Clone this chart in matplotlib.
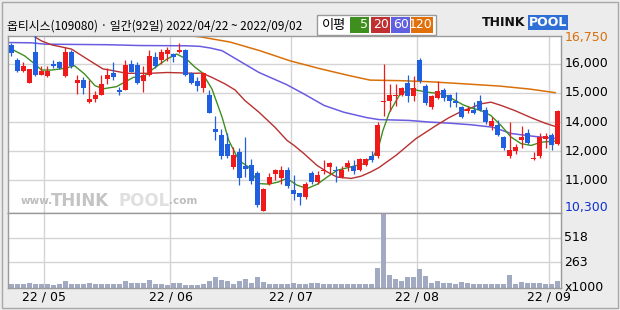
import matplotlib
matplotlib.use('Agg')
import matplotlib.pyplot as plt
from matplotlib.patches import Rectangle

# daily candles (index 0 = 2022/04/22)
opens = [16400, 15850, 15450, 15000, 16150, 15300, 15250, 15700, 15750, 15250,
         16150, 15000, 15100, 14300, 14400, 14550, 15150, 15350, 14750, 14750,
         15700, 15650, 15050, 15300, 15950, 15850, 16050, 16050, 16150, 16200,
         15350, 15050, 14800, 14550, 13300, 13100, 12750, 11900, 12450, 11950,
         12000, 11700, 10300, 11300, 11650, 11500, 11800, 11050, 10950, 10800,
         11700, 11350, 11750, 11900, 11800, 11550, 11900, 11950, 11800, 12000,
         12300, 12300, 14300, 14350, 14500, 14550, 15000, 14500, 15850, 14900,
         14100, 14450, 14750, 14550, 14350, 14100, 13950, 14000, 14350, 14000,
         13400, 13450, 13000, 12300, 12500, 12900, 13150, 12200, 12300, 12950,
         13100, 12750]
highs = [16450, 15900, 15750, 15500, 16750, 15600, 15600, 15850, 15800, 16300,
         16200, 15300, 15200, 15100, 14700, 15300, 15550, 15750, 14850, 15850,
         15850, 15750, 15600, 16200, 16150, 16250, 16300, 16100, 16450, 16250,
         15400, 15200, 15400, 14750, 13800, 13300, 13150, 12650, 12600, 13000,
         12200, 11750, 11150, 11700, 11850, 11950, 11900, 11600, 10950, 11350,
         11750, 11750, 12150, 12100, 11950, 11950, 12150, 12150, 12250, 12250,
         12500, 13550, 15700, 14950, 14950, 14850, 15300, 15250, 15900, 14950,
         14550, 15050, 14800, 14600, 14650, 14150, 14150, 14300, 14550, 14100,
         13750, 13650, 13050, 13550, 12750, 13400, 13300, 12450, 13150, 13150,
         13150, 14000]
lows = [16000, 15400, 15400, 15000, 15250, 15300, 15200, 15550, 15500, 15200,
        15550, 14600, 14600, 14250, 14300, 14550, 14950, 15100, 14550, 14750,
        15400, 14950, 14650, 15250, 15550, 15700, 15800, 15750, 16100, 15250,
        14950, 14700, 14650, 13900, 12900, 12200, 12250, 11850, 11250, 11550,
        11300, 10450, 10300, 11250, 11450, 11300, 11150, 10700, 10500, 10750,
        11300, 11300, 11650, 11650, 11350, 11500, 11750, 11650, 11750, 11950,
        12100, 12250, 13800, 13950, 14150, 14500, 14300, 14350, 15000, 14200,
        14050, 14400, 14350, 14100, 14100, 13700, 13900, 13850, 13950, 13500,
        13250, 13050, 12550, 12250, 12400, 12600, 12750, 12150, 12250, 12600,
        12550, 12700]
closes = [16100, 15450, 15600, 15500, 15300, 15450, 15450, 15600, 15550, 16150,
          15600, 15100, 14800, 14400, 14550, 14950, 15300, 15200, 14650, 15650,
          15400, 15000, 15300, 16000, 15600, 16150, 16200, 15950, 16200, 15300,
          15000, 14900, 15350, 13900, 13200, 12300, 12300, 12350, 11500, 11850,
          11400, 10500, 11100, 11550, 11800, 11800, 11200, 10900, 10800, 11300,
          11350, 11600, 11800, 12050, 11750, 11800, 12050, 11750, 12200, 12200,
          12150, 13450, 14350, 14550, 14550, 14800, 14500, 14800, 15050, 14250,
          14500, 14700, 14450, 14350, 14250, 13750, 14050, 13900, 14000, 13550,
          13600, 13100, 12600, 12550, 12650, 13000, 12800, 12250, 13000, 13050,
          12700, 13950]
volumes = [37, 41, 37, 51, 44, 37, 37, 34, 41, 75,
           44, 44, 37, 51, 44, 44, 44, 44, 44, 75,
           54, 54, 54, 82, 44, 41, 27, 54, 54, 34,
           34, 34, 44, 75, 112, 82, 75, 44, 75, 95,
           54, 112, 61, 44, 37, 41, 41, 51, 44, 37,
           51, 51, 41, 44, 37, 41, 41, 37, 37, 37,
           37, 204, 755, 133, 92, 75, 112, 112, 194, 122,
           54, 75, 54, 54, 44, 58, 54, 44, 41, 41,
           44, 44, 44, 136, 41, 61, 51, 51, 51, 44,
           44, 75]

# moving average lines (candle index, price)
ma5_x = [0, 2.2, 3.9, 5, 6.6, 8.9, 10.5, 12.2, 13.9, 15.25, 17.5, 20.3, 22, 23.6,
         25.9, 27.5, 29.2, 30.6, 31.75, 33.4, 35.1, 36.2, 37.9, 39.5, 41.2, 42.9,
         44.5, 45.9, 47.6, 49.3, 51, 52.6, 54.3, 56.5, 58.75, 60.4, 61.25, 61.9, 63,
         64.6, 66.3, 68, 69.6, 71.9, 73.5, 75.2, 76.6, 78.25, 79.9, 81.6, 83.25,
         84.9, 86.6, 88.25, 90.6]
ma5_y = [16240, 15990, 15690, 15470, 15470, 15530, 15630, 15320, 14900, 14780,
         14860, 15200, 15230, 15510, 15870, 16060, 15870, 15570, 15380, 14780,
         13740, 12890, 12150, 11910, 11300, 11280, 11360, 11490, 11240, 11120,
         11280, 11540, 11790, 11910, 12030, 12340, 12700, 13250, 13920, 14530,
         14780, 14710, 14650, 14590, 14410, 14200, 14080, 13980, 13800, 13430,
         13010, 12770, 12700, 12820, 12860]
ma20_x = [3.4, 5, 6.6, 10, 12.2, 15.25, 16.4, 19.2, 23.1, 25.9, 30.6, 31.75, 33.4,
          35.6, 37.25, 38.9, 41.25, 43.9, 45.9, 47.1, 48.75, 50.9, 52.6, 54.25,
          56.6, 58.25, 59.9, 61.25, 64.1, 67.4, 70.75, 72.9, 75.25, 76.6, 78.25,
          79.9, 81.6, 83.9, 86.6, 88.9, 90.6]
ma20_y = [16750, 16540, 16400, 16240, 15930, 15510, 15470, 15350, 15350, 15380,
          15350, 15360, 15200, 14960, 14740, 14350, 13920, 13370, 12890, 12700,
          12400, 11970, 11730, 11540, 11490, 11570, 11730, 11890, 12340, 12950,
          13430, 13720, 13980, 14080, 14230, 14290, 14170, 13980, 13720, 13520,
          13400]
ma60_x = [-0.6, 3.25, 5.6, 15.9, 21.4, 29.25, 31.4, 33.1, 35.1, 38.4, 41.25, 45.9,
          48.75, 52.1, 55.4, 59.25, 61.25, 66.25, 69.6, 72.9, 76.6, 80.25, 83.25,
          87.25, 90.6]
ma60_y = [16480, 16470, 16420, 16400, 16370, 16360, 16340, 16280, 16180, 15750,
          15380, 14930, 14590, 14170, 13920, 13720, 13650, 13620, 13560, 13520,
          13460, 13370, 13140, 13030, 12960]
ma120_x = [27.4, 31.4, 36.4, 41.4, 46.4, 51.4, 56.4, 59.75, 64.75, 69.75, 76.4,
           81.4, 86.4, 90.6]
ma120_y = [16780, 16690, 16500, 16180, 15810, 15520, 15260, 15100, 15080, 15040,
           14950, 14880, 14770, 14640]

month_start = [6, 27, 47, 68, 90]
month_labels = ['22/05', '22/06', '22/07', '22/08', '22/09']
price_grid = [15700, 14640, 13545, 12485, 11425]
price_labels = ['16,000', '15,000', '14,000', '12,000', '11,000']
price_max, price_min = 16750, 10300
vol_grid = [518, 263]

UP = '#f01a1a'
DOWN = '#1f5fe0'
GRID = '#d4d4d4'
FRAME = '#9a9a9a'
KR = ['Noto Sans CJK KR', 'DejaVu Sans']

fig = plt.figure(figsize=(6.2, 3.1), dpi=100, facecolor='#ececec')
fig.patches.append(Rectangle((0.004, 0.006), 0.992, 0.988, transform=fig.transFigure,
                             fill=False, edgecolor='#a8a8a8', lw=1))

L, W = 8 / 620, 553 / 620
ax = fig.add_axes([L, 1 - 213 / 310, W, 177 / 310])
axv = fig.add_axes([L, 1 - 288 / 310, W, 75 / 310])

n = len(closes)
idx = list(range(n))
for a in (ax, axv):
    a.set_xlim(-0.58, n - 0.42)
    a.set_xticks([])
    a.set_yticks([])
    for s in a.spines.values():
        s.set_color(FRAME)
        s.set_linewidth(1)
    for m in month_start:
        a.axvline(m - 0.5, color=GRID, lw=1, zorder=0)

ax.set_ylim(10220, 16720)
for g in price_grid:
    ax.axhline(g, color=GRID, lw=1, zorder=0)

# moving averages
ax.plot(ma120_x, ma120_y, color='#d97008', lw=1.1, zorder=2)
ax.plot(ma60_x, ma60_y, color='#6a5ce0', lw=1.1, zorder=2)
ax.plot(ma20_x, ma20_y, color='#b83030', lw=1, zorder=2)
ax.plot(ma5_x, ma5_y, color='#3f8f1f', lw=1, zorder=2)

# candles
cols = [UP if c >= o else DOWN for o, c in zip(opens, closes)]
ax.vlines(idx, lows, highs, colors=cols, lw=0.9, zorder=3)
bottoms = [min(o, c) for o, c in zip(opens, closes)]
heights = [max(abs(c - o), 40) for o, c in zip(opens, closes)]
ax.bar(idx, heights, bottom=bottoms, width=0.8, color=cols, zorder=4)

# volume
axv.set_ylim(0, 770)
for g in vol_grid:
    axv.axhline(g, color=GRID, lw=1, zorder=0)
axv.bar(idx, volumes, width=0.8, color='#a2aac2', zorder=2)

# right-hand labels
tr = ax.get_yaxis_transform()
ax.text(1.006, 16650, '{:,}'.format(price_max), transform=tr, fontsize=9,
        color='#d9700a', va='center', ha='left')
for g, lab in zip(price_grid, price_labels):
    ax.text(1.006, g, lab, transform=tr, fontsize=9, color='black', va='center', ha='left')
ax.text(1.006, 10430, '{:,}'.format(price_min), transform=tr, fontsize=9,
        color='#1030d0', va='center', ha='left')
trv = axv.get_yaxis_transform()
for g in vol_grid:
    axv.text(1.006, g, str(g), transform=trv, fontsize=9, va='center', ha='left')
axv.text(1.006, 10, 'x1000', transform=trv, fontsize=9, va='center', ha='left')

# month labels
for m, lab in zip(month_start, month_labels):
    axv.text(m - 0.5, -0.04, lab.replace('/', ' / '), transform=axv.get_xaxis_transform(),
             fontsize=9, ha='center', va='top')

# watermark
ax.text(0.022, 0.07, 'www.', transform=ax.transAxes, fontsize=7.5, color='#bdbdbd',
        ha='left', va='center', fontweight='bold')
ax.text(0.078, 0.07, 'THINK', transform=ax.transAxes, fontsize=12, color='#c4c4c4',
        ha='left', va='center', fontweight='bold')
ax.text(0.2, 0.07, 'POOL', transform=ax.transAxes, fontsize=12, color='#e0e0e0',
        ha='left', va='center', fontweight='bold')
ax.text(0.292, 0.07, '.com', transform=ax.transAxes, fontsize=7.5, color='#bdbdbd',
        ha='left', va='center', fontweight='bold')

# title
fig.text(7 / 620, 1 - 26 / 310, '옵티시스(109080) · 일간(92일) 2022/04/22 ~ 2022/09/02',
         family=KR, fontsize=8.5, ha='left', va='center')

# legend box
fig.patches.append(Rectangle((317 / 620, 1 - 35 / 310), 119 / 620, 20 / 310,
                             transform=fig.transFigure, facecolor='white',
                             edgecolor='#9a9a9a', lw=1))
fig.text(322 / 620, 1 - 25 / 310, '이평', family=KR, fontsize=9.5, ha='left', va='center')
leg = [('5', '#3f8f1f', 350, 19), ('20', '#c03030', 371, 19),
       ('60', '#6060e0', 391, 19), ('120', '#e0700a', 411, 22)]
for lab, c, x0, w in leg:
    fig.patches.append(Rectangle((x0 / 620, 1 - 33 / 310), w / 620, 16 / 310,
                                 transform=fig.transFigure, facecolor=c, edgecolor='none'))
    fig.text((x0 + w - 1) / 620, 1 - 25 / 310, lab, fontsize=9, color='white',
             ha='right', va='center')

# logo
fig.text(482 / 620, 1 - 22 / 310, 'THINK', fontsize=9, fontweight='bold',
         ha='left', va='center', color='#111111')
fig.text(529 / 620, 1 - 22 / 310, 'POOL', fontsize=9, fontweight='bold',
         ha='left', va='center', color='white',
         bbox=dict(boxstyle='square,pad=0.08', facecolor='#2f6fd6', edgecolor='none'))

fig.savefig('out.png', dpi=100, facecolor=fig.get_facecolor())
